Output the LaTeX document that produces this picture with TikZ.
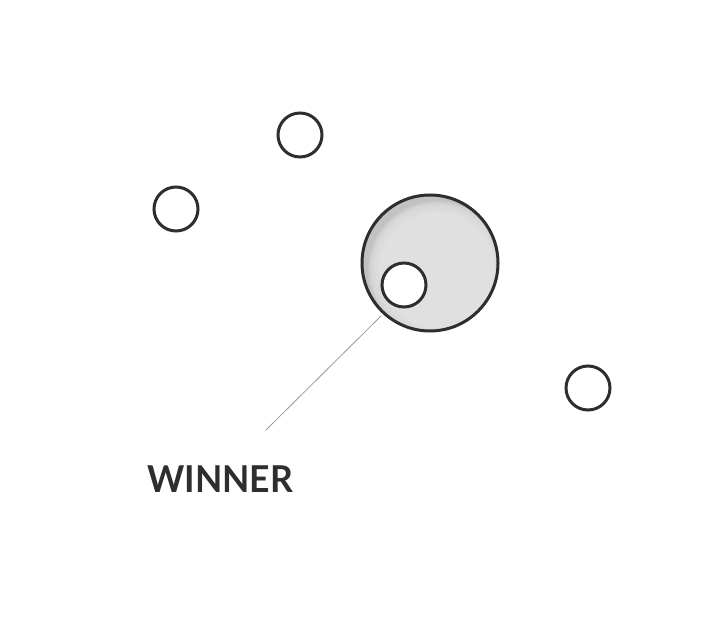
\documentclass[tikz,border=0pt]{standalone}
\usepackage{fontspec}
\newfontfamily\labelfont{Lato}
\begin{document}
\begin{tikzpicture}[x=1pt,y=-1pt,
  dot/.style={circle,draw=ink,line width=3pt,fill=white,minimum size=44pt,inner sep=0pt},
  bigdot/.style={circle,draw=ink,line width=3pt,minimum size=136pt,inner sep=0pt},
  leader/.style={draw=gray!80,line width=0.8pt}]
\definecolor{ink}{HTML}{2E2E2E}
\definecolor{circfill}{HTML}{E0E0E0}
\definecolor{circdark}{HTML}{C2C2C2}
\useasboundingbox[fill=white] (0,0) rectangle (725,639);
\begin{scope}
  \clip (430,263) circle (68);
  \fill[circdark] (430,263) circle (68);
  \foreach \i in {0,...,11} {
    \fill[circfill,opacity=0.22] (437,270) circle ({69-\i*0.9});
  }
  \fill[circfill] (437,270) circle (58);
\end{scope}
\node[bigdot] (big) at (430,263) {};
\node[dot] (win) at (404,285) {};
\node[dot] (a) at (300,135) {};
\node[dot] (b) at (176,209) {};
\node[dot] (c) at (588,388) {};
\coordinate (lstart) at (381,316);
\coordinate (lend) at (266,430);
\draw[leader] (lstart) -- (lend);
\node[anchor=base west,inner sep=0pt,text=ink,font=\labelfont\bfseries\fontsize{37}{37}\selectfont,xscale=0.96] (label) at (147,492) {WINNER};
\end{tikzpicture}
\end{document}
